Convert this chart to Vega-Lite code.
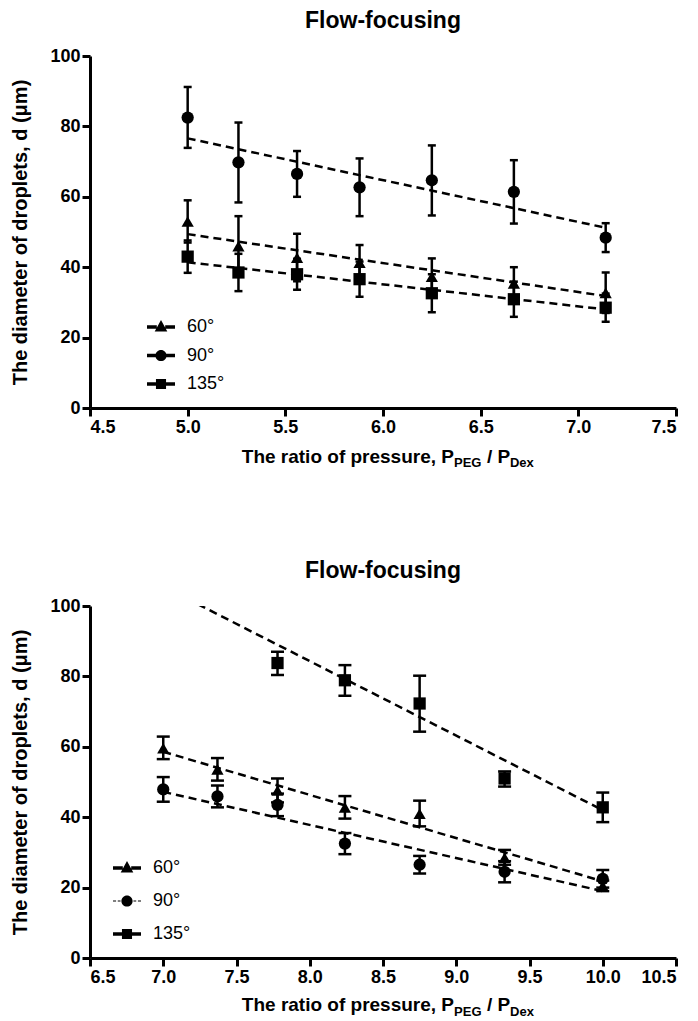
{
  "$schema": "https://vega.github.io/schema/vega-lite/v6.json",
  "padding": {"left": 10, "top": 10, "right": 5, "bottom": 5},
  "background": "white",
  "spacing": 89,
  "config": {
    "view": {"stroke": null},
    "font": "Liberation Sans",
    "axis": {
      "grid": false,
      "domainColor": "black", "domainWidth": 3,
      "tickColor": "black", "tickWidth": 3, "tickSize": 8,
      "labelFont": "Liberation Sans", "labelFontSize": 18, "labelFontWeight": "bold", "labelColor": "black", "labelPadding": 2,
      "titleFont": "Liberation Sans", "titleFontSize": 20, "titleFontWeight": "bold", "titleColor": "black"
    },
    "legend": {
      "orient": "none", "title": null,
      "labelFont": "Liberation Sans", "labelFontSize": 18, "labelColor": "black", "labelOffset": 12,
      "symbolFillColor": "black", "symbolStrokeColor": "black", "symbolStrokeWidth": 0, "symbolOpacity": 1, "symbolSize": 784
    }
  },
  "datasets": {
    "top": [
      {"x": 5.00, "series": "60°", "d": 53.0, "lo": 47.0, "hi": 59.0},
      {"x": 5.26, "series": "60°", "d": 46.0, "lo": 37.5, "hi": 54.5},
      {"x": 5.56, "series": "60°", "d": 42.7, "lo": 36.0, "hi": 49.5},
      {"x": 5.88, "series": "60°", "d": 41.3, "lo": 36.3, "hi": 46.3},
      {"x": 6.25, "series": "60°", "d": 37.3, "lo": 32.1, "hi": 42.5},
      {"x": 6.67, "series": "60°", "d": 35.4, "lo": 30.8, "hi": 40.0},
      {"x": 7.14, "series": "60°", "d": 32.7, "lo": 27.0, "hi": 38.5},
      {"x": 5.00, "series": "90°", "d": 82.5, "lo": 73.9, "hi": 91.2},
      {"x": 5.26, "series": "90°", "d": 69.8, "lo": 58.4, "hi": 81.1},
      {"x": 5.56, "series": "90°", "d": 66.5, "lo": 60.0, "hi": 73.0},
      {"x": 5.88, "series": "90°", "d": 62.7, "lo": 54.5, "hi": 70.9},
      {"x": 6.25, "series": "90°", "d": 64.7, "lo": 54.7, "hi": 74.6},
      {"x": 6.67, "series": "90°", "d": 61.4, "lo": 52.4, "hi": 70.4},
      {"x": 7.14, "series": "90°", "d": 48.4, "lo": 44.3, "hi": 52.5},
      {"x": 5.00, "series": "135°", "d": 43.0, "lo": 38.4, "hi": 47.6},
      {"x": 5.26, "series": "135°", "d": 38.5, "lo": 33.2, "hi": 43.8},
      {"x": 5.56, "series": "135°", "d": 38.0, "lo": 33.6, "hi": 42.4},
      {"x": 5.88, "series": "135°", "d": 36.6, "lo": 31.6, "hi": 41.6},
      {"x": 6.25, "series": "135°", "d": 32.6, "lo": 27.2, "hi": 38.0},
      {"x": 6.67, "series": "135°", "d": 30.9, "lo": 25.9, "hi": 35.9},
      {"x": 7.14, "series": "135°", "d": 28.5, "lo": 24.5, "hi": 32.5}
    ],
    "topfit": [
      {"x": 5.00, "series": "60°", "d": 49.4},
      {"x": 7.14, "series": "60°", "d": 31.8},
      {"x": 5.00, "series": "90°", "d": 76.6},
      {"x": 7.14, "series": "90°", "d": 51.2},
      {"x": 5.00, "series": "135°", "d": 41.4},
      {"x": 7.14, "series": "135°", "d": 28.0}
    ],
    "bot": [
      {"x": 7.00, "series": "60°", "d": 59.6, "lo": 56.5, "hi": 62.9},
      {"x": 7.37, "series": "60°", "d": 53.6, "lo": 50.4, "hi": 56.8},
      {"x": 7.78, "series": "60°", "d": 47.6, "lo": 44.2, "hi": 51.0},
      {"x": 8.24, "series": "60°", "d": 42.8, "lo": 39.6, "hi": 46.0},
      {"x": 8.75, "series": "60°", "d": 41.0, "lo": 37.4, "hi": 44.7},
      {"x": 9.33, "series": "60°", "d": 28.5, "lo": 26.5, "hi": 30.7},
      {"x": 10.0, "series": "60°", "d": 20.5, "lo": 19.0, "hi": 22.0},
      {"x": 7.00, "series": "90°", "d": 47.9, "lo": 44.4, "hi": 51.4},
      {"x": 7.37, "series": "90°", "d": 45.9, "lo": 42.8, "hi": 49.0},
      {"x": 7.78, "series": "90°", "d": 43.5, "lo": 40.3, "hi": 46.7},
      {"x": 8.24, "series": "90°", "d": 32.5, "lo": 29.5, "hi": 35.5},
      {"x": 8.75, "series": "90°", "d": 26.5, "lo": 24.0, "hi": 29.0},
      {"x": 9.33, "series": "90°", "d": 24.5, "lo": 21.5, "hi": 27.5},
      {"x": 10.0, "series": "90°", "d": 22.5, "lo": 20.0, "hi": 25.0},
      {"x": 7.78, "series": "135°", "d": 83.8, "lo": 80.4, "hi": 87.0},
      {"x": 8.24, "series": "135°", "d": 78.9, "lo": 74.5, "hi": 83.2},
      {"x": 8.75, "series": "135°", "d": 72.3, "lo": 64.3, "hi": 80.2},
      {"x": 9.33, "series": "135°", "d": 51.0, "lo": 48.7, "hi": 53.0},
      {"x": 10.0, "series": "135°", "d": 42.8, "lo": 38.6, "hi": 47.0}
    ],
    "botfit": [
      {"x": 7.0, "series": "60°", "d": 58.6},
      {"x": 10.0, "series": "60°", "d": 21.8},
      {"x": 7.0, "series": "90°", "d": 47.2},
      {"x": 10.0, "series": "90°", "d": 19.0},
      {"x": 7.0, "series": "135°", "d": 105.5},
      {"x": 10.0, "series": "135°", "d": 42.0}
    ]
  },
  "vconcat": [
    {
      "title": {"text": "Flow-focusing", "fontSize": 23, "fontWeight": "bold", "font": "Liberation Sans", "color": "black", "offset": 14},
      "width": 586, "height": 352,
      "resolve": {"scale": {"shape": "independent"}},
      "layer": [
        {
          "data": {"name": "topfit"},
          "mark": {"type": "line", "strokeDash": [8, 5], "strokeWidth": 2.5, "color": "black"},
          "encoding": {
            "x": {"field": "x", "type": "quantitative", "scale": {"domain": [4.5, 7.5], "nice": false, "zero": false},
                  "axis": {"values": [4.5, 5.0, 5.5, 6.0, 6.5, 7.0, 7.5], "format": ".1f", "title": null}},
            "y": {"field": "d", "type": "quantitative", "scale": {"domain": [0, 100], "nice": false},
                  "axis": {"values": [0, 20, 40, 60, 80, 100], "title": "The diameter of droplets, d (μm)", "titlePadding": 19}},
            "detail": {"field": "series"}
          }
        },
        {
          "data": {"name": "top"},
          "mark": {"type": "rule", "strokeWidth": 2.5, "color": "black"},
          "encoding": {
            "x": {"field": "x", "type": "quantitative"},
            "y": {"field": "lo", "type": "quantitative"},
            "y2": {"field": "hi"}
          }
        },
        {
          "data": {"name": "top"},
          "mark": {"type": "tick", "orient": "horizontal", "size": 8, "thickness": 2.5, "color": "black", "opacity": 1},
          "encoding": {"x": {"field": "x", "type": "quantitative"}, "y": {"field": "lo", "type": "quantitative"}}
        },
        {
          "data": {"name": "top"},
          "mark": {"type": "tick", "orient": "horizontal", "size": 8, "thickness": 2.5, "color": "black", "opacity": 1},
          "encoding": {"x": {"field": "x", "type": "quantitative"}, "y": {"field": "hi", "type": "quantitative"}}
        },
        {
          "data": {"name": "top"},
          "mark": {"type": "point", "filled": true, "size": 150, "color": "black", "opacity": 1},
          "encoding": {
            "x": {"field": "x", "type": "quantitative"},
            "y": {"field": "d", "type": "quantitative"},
            "shape": {"field": "series", "type": "nominal", "scale": {"domain": ["60°", "90°", "135°"], "range": ["triangle-up", "circle", "square"]}, "legend": null}
          }
        },
        {
          "data": {"name": "top"},
          "mark": {"type": "point", "filled": true, "color": "black", "opacity": 0},
          "encoding": {
            "x": {"field": "x", "type": "quantitative"},
            "y": {"field": "d", "type": "quantitative"},
            "shape": {"field": "series", "type": "nominal",
              "scale": {"domain": ["60°", "90°", "135°"], "range": [
                "M-1,-0.12H-0.3V0.12H-1Z M0.3,-0.12H1V0.12H0.3Z M0,-0.5L0.45,0.32H-0.45Z",
                "M-1,-0.12H-0.36V0.12H-1Z M0.36,-0.12H1V0.12H0.36Z M-0.4,0A0.4,0.4 0 1,1 0.4,0A0.4,0.4 0 1,1 -0.4,0Z",
                "M-1,-0.12H-0.36V0.12H-1Z M0.36,-0.12H1V0.12H0.36Z M-0.36,-0.36H0.36V0.36H-0.36Z"]},
              "legend": {"legendX": 57, "legendY": 257, "rowPadding": 5.5}}
          }
        },
        {
          "data": {"values": [{}]},
          "mark": {"type": "text", "text": "The ratio of pressure, P", "align": "right", "baseline": "middle", "fontSize": 19, "fontWeight": "bold", "color": "black"},
          "encoding": {"x": {"datum": 6.3635, "type": "quantitative"}, "y": {"datum": -13.9, "type": "quantitative"}}
        },
        {
          "data": {"values": [{}]},
          "mark": {"type": "text", "text": "PEG", "align": "left", "baseline": "middle", "fontSize": 13, "fontWeight": "bold", "color": "black"},
          "encoding": {"x": {"datum": 6.3635, "type": "quantitative"}, "y": {"datum": -15.7, "type": "quantitative"}}
        },
        {
          "data": {"values": [{}]},
          "mark": {"type": "text", "text": "/ P", "align": "left", "baseline": "middle", "fontSize": 19, "fontWeight": "bold", "color": "black"},
          "encoding": {"x": {"datum": 6.532, "type": "quantitative"}, "y": {"datum": -13.9, "type": "quantitative"}}
        },
        {
          "data": {"values": [{}]},
          "mark": {"type": "text", "text": "Dex", "align": "left", "baseline": "middle", "fontSize": 13, "fontWeight": "bold", "color": "black"},
          "encoding": {"x": {"datum": 6.650, "type": "quantitative"}, "y": {"datum": -15.7, "type": "quantitative"}}
        }
      ]
    },
    {
      "title": {"text": "Flow-focusing", "fontSize": 23, "fontWeight": "bold", "font": "Liberation Sans", "color": "black", "offset": 14},
      "width": 586, "height": 352,
      "resolve": {"scale": {"shape": "independent"}},
      "layer": [
        {
          "data": {"name": "botfit"},
          "mark": {"type": "line", "strokeDash": [8, 5], "strokeWidth": 2.5, "color": "black", "clip": true},
          "encoding": {
            "x": {"field": "x", "type": "quantitative", "scale": {"domain": [6.5, 10.5], "nice": false, "zero": false},
                  "axis": {"values": [6.5, 7.0, 7.5, 8.0, 8.5, 9.0, 9.5, 10.0, 10.5], "format": ".1f", "title": null}},
            "y": {"field": "d", "type": "quantitative", "scale": {"domain": [0, 100], "nice": false},
                  "axis": {"values": [0, 20, 40, 60, 80, 100], "title": "The diameter of droplets, d (μm)", "titlePadding": 19}},
            "detail": {"field": "series"}
          }
        },
        {
          "data": {"name": "bot"},
          "mark": {"type": "rule", "strokeWidth": 2.5, "color": "black"},
          "encoding": {
            "x": {"field": "x", "type": "quantitative"},
            "y": {"field": "lo", "type": "quantitative"},
            "y2": {"field": "hi"}
          }
        },
        {
          "data": {"name": "bot"},
          "mark": {"type": "tick", "orient": "horizontal", "size": 13, "thickness": 2.5, "color": "black", "opacity": 1},
          "encoding": {"x": {"field": "x", "type": "quantitative"}, "y": {"field": "lo", "type": "quantitative"}}
        },
        {
          "data": {"name": "bot"},
          "mark": {"type": "tick", "orient": "horizontal", "size": 13, "thickness": 2.5, "color": "black", "opacity": 1},
          "encoding": {"x": {"field": "x", "type": "quantitative"}, "y": {"field": "hi", "type": "quantitative"}}
        },
        {
          "data": {"name": "bot"},
          "mark": {"type": "point", "filled": true, "size": 150, "color": "black", "opacity": 1},
          "encoding": {
            "x": {"field": "x", "type": "quantitative"},
            "y": {"field": "d", "type": "quantitative"},
            "shape": {"field": "series", "type": "nominal", "scale": {"domain": ["60°", "90°", "135°"], "range": ["triangle-up", "circle", "square"]}, "legend": null}
          }
        },
        {
          "data": {"name": "bot"},
          "mark": {"type": "point", "filled": true, "color": "black", "opacity": 0},
          "encoding": {
            "x": {"field": "x", "type": "quantitative"},
            "y": {"field": "d", "type": "quantitative"},
            "shape": {"field": "series", "type": "nominal",
              "scale": {"domain": ["60°", "90°", "135°"], "range": [
                "M-1,-0.12H-0.3V0.12H-1Z M0.3,-0.12H1V0.12H0.3Z M0,-0.5L0.45,0.32H-0.45Z",
                "M-1,-0.04H-0.78V0.04H-1Z M-0.66,-0.04H-0.46V0.04H-0.66Z M0.46,-0.04H0.66V0.04H0.46Z M0.78,-0.04H1V0.04H0.78Z M-0.4,0A0.4,0.4 0 1,1 0.4,0A0.4,0.4 0 1,1 -0.4,0Z",
                "M-1,-0.12H-0.36V0.12H-1Z M0.36,-0.12H1V0.12H0.36Z M-0.36,-0.36H0.36V0.36H-0.36Z"]},
              "legend": {"legendX": 23, "legendY": 248, "rowPadding": 10}}
          }
        },
        {
          "data": {"values": [{}]},
          "mark": {"type": "text", "text": "The ratio of pressure, P", "align": "right", "baseline": "middle", "fontSize": 19, "fontWeight": "bold", "color": "black"},
          "encoding": {"x": {"datum": 8.985, "type": "quantitative"}, "y": {"datum": -13.4, "type": "quantitative"}}
        },
        {
          "data": {"values": [{}]},
          "mark": {"type": "text", "text": "PEG", "align": "left", "baseline": "middle", "fontSize": 13, "fontWeight": "bold", "color": "black"},
          "encoding": {"x": {"datum": 8.985, "type": "quantitative"}, "y": {"datum": -15.2, "type": "quantitative"}}
        },
        {
          "data": {"values": [{}]},
          "mark": {"type": "text", "text": "/ P", "align": "left", "baseline": "middle", "fontSize": 19, "fontWeight": "bold", "color": "black"},
          "encoding": {"x": {"datum": 9.21, "type": "quantitative"}, "y": {"datum": -13.4, "type": "quantitative"}}
        },
        {
          "data": {"values": [{}]},
          "mark": {"type": "text", "text": "Dex", "align": "left", "baseline": "middle", "fontSize": 13, "fontWeight": "bold", "color": "black"},
          "encoding": {"x": {"datum": 9.367, "type": "quantitative"}, "y": {"datum": -15.2, "type": "quantitative"}}
        }
      ]
    }
  ]
}
